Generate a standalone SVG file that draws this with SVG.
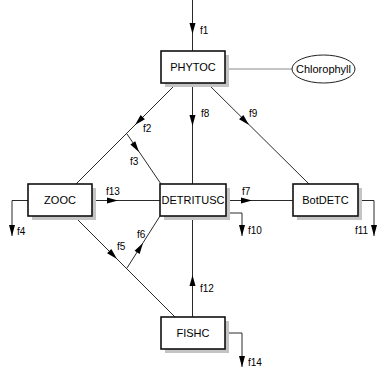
<svg xmlns="http://www.w3.org/2000/svg" width="378" height="368" viewBox="0 0 378 368">
  <style>
    .box { fill: #ffffff; stroke: #111111; stroke-width: 1.6; }
    .shadow { fill: #c4c4c4; }
    .name { font-family: "Liberation Sans", Arial, sans-serif; font-size: 11px; fill: #000; text-anchor: middle; dominant-baseline: central; }
    .flow { fill: none; stroke: #2a2a2a; stroke-width: 1; }
    .link { fill: none; stroke: #8a8a8a; stroke-width: 1; }
    .lab { font-family: "Liberation Sans", Arial, sans-serif; font-size: 10px; fill: #000; }
    .head { fill: #000; }
  </style>
  <defs>
    <!-- filled arrowhead, tip at origin, pointing along +x -->
    <path id="ah" class="head" d="M0,0 L-11,-3 L-11,3 Z"/>
  </defs>

  <g id="connectors">
    <!-- f1 inflow to PHYTOC -->
    <line class="flow" x1="192.5" y1="0" x2="192.5" y2="51"/>
    <use href="#ah" transform="translate(192.5,34) rotate(90)"/>
    <!-- f8 PHYTOC -> DETRITUSC -->
    <line class="flow" x1="192.5" y1="83" x2="192.5" y2="184"/>
    <use href="#ah" transform="translate(192.5,126) rotate(90)"/>
    <!-- f9 PHYTOC -> BotDETC -->
    <line class="flow" x1="207" y1="83" x2="309" y2="184"/>
    <use href="#ah" transform="translate(249,125) rotate(45)"/>
    <!-- f2 PHYTOC -> ZOOC -->
    <line class="flow" x1="177" y1="83" x2="76" y2="184"/>
    <use href="#ah" transform="translate(135,125) rotate(135)"/>
    <!-- f3 branch to DETRITUSC -->
    <line class="flow" x1="127" y1="134" x2="161" y2="184"/>
    <use href="#ah" transform="translate(139,152) rotate(55.8)"/>
    <!-- f13 ZOOC -> DETRITUSC -->
    <line class="flow" x1="92" y1="200.5" x2="160" y2="200.5"/>
    <use href="#ah" transform="translate(118,200.5)"/>
    <!-- f7 DETRITUSC -> BotDETC -->
    <line class="flow" x1="226" y1="200.5" x2="293" y2="200.5"/>
    <use href="#ah" transform="translate(252,200.5)"/>
    <!-- f4 ZOOC loss -->
    <polyline class="flow" points="28,200.5 12,200.5 12,236"/>
    <use href="#ah" transform="translate(12,236) rotate(90)"/>
    <!-- f10 DETRITUSC loss -->
    <polyline class="flow" points="225,213 242,213 242,236"/>
    <use href="#ah" transform="translate(242,236) rotate(90)"/>
    <!-- f11 BotDETC loss -->
    <polyline class="flow" points="358,200.5 374,200.5 374,236"/>
    <use href="#ah" transform="translate(374,236) rotate(90)"/>
    <!-- f5 ZOOC -> FISHC -->
    <line class="flow" x1="74" y1="216" x2="175" y2="317"/>
    <use href="#ah" transform="translate(117,259) rotate(45)"/>
    <!-- f6 branch to DETRITUSC -->
    <line class="flow" x1="127" y1="268" x2="160" y2="216"/>
    <use href="#ah" transform="translate(143,243) rotate(-57.6)"/>
    <!-- f12 FISHC -> DETRITUSC -->
    <line class="flow" x1="192.5" y1="317" x2="192.5" y2="216"/>
    <use href="#ah" transform="translate(192.5,275) rotate(-90)"/>
    <!-- f14 FISHC loss -->
    <polyline class="flow" points="225,333 242,333 242,367"/>
    <use href="#ah" transform="translate(242,367) rotate(90)"/>
    <!-- PHYTOC to Chlorophyll -->
    <line class="link" x1="225" y1="69" x2="292" y2="69"/>

    <text class="lab" x="200" y="34">f1</text>
    <text class="lab" x="143" y="132">f2</text>
    <text class="lab" x="130" y="165">f3</text>
    <text class="lab" x="201" y="117">f8</text>
    <text class="lab" x="249" y="117">f9</text>
    <text class="lab" x="106" y="195">f13</text>
    <text class="lab" x="242" y="195">f7</text>
    <text class="lab" x="17" y="235">f4</text>
    <text class="lab" x="117" y="250">f5</text>
    <text class="lab" x="137" y="238">f6</text>
    <text class="lab" x="248" y="234">f10</text>
    <text class="lab" x="355" y="234">f11</text>
    <text class="lab" x="200" y="292">f12</text>
    <text class="lab" x="248" y="366">f14</text>
  </g>

  <g id="PHYTOC">
    <rect class="shadow" x="165" y="55" width="64" height="32"/>
    <rect class="box" x="161" y="51" width="64" height="32"/>
    <text class="name" x="193" y="67">PHYTOC</text>
  </g>
  <g id="ZOOC">
    <rect class="shadow" x="32" y="188" width="64" height="32"/>
    <rect class="box" x="28" y="184" width="64" height="32"/>
    <text class="name" x="60" y="200">ZOOC</text>
  </g>
  <g id="DETRITUSC">
    <rect class="shadow" x="164" y="188" width="66" height="32"/>
    <rect class="box" x="160" y="184" width="66" height="32"/>
    <text class="name" x="193" y="200">DETRITUSC</text>
  </g>
  <g id="BotDETC">
    <rect class="shadow" x="297" y="188" width="65" height="32"/>
    <rect class="box" x="293" y="184" width="65" height="32"/>
    <text class="name" x="325.5" y="200">BotDETC</text>
  </g>
  <g id="FISHC">
    <rect class="shadow" x="165" y="321" width="64" height="32"/>
    <rect class="box" x="161" y="317" width="64" height="32"/>
    <text class="name" x="193" y="333">FISHC</text>
  </g>
  <g id="Chlorophyll">
    <ellipse cx="323.5" cy="69" rx="31.5" ry="14" fill="#ffffff" stroke="#222" stroke-width="1"/>
    <text class="name" x="323.5" y="69">Chlorophyll</text>
  </g>
</svg>
